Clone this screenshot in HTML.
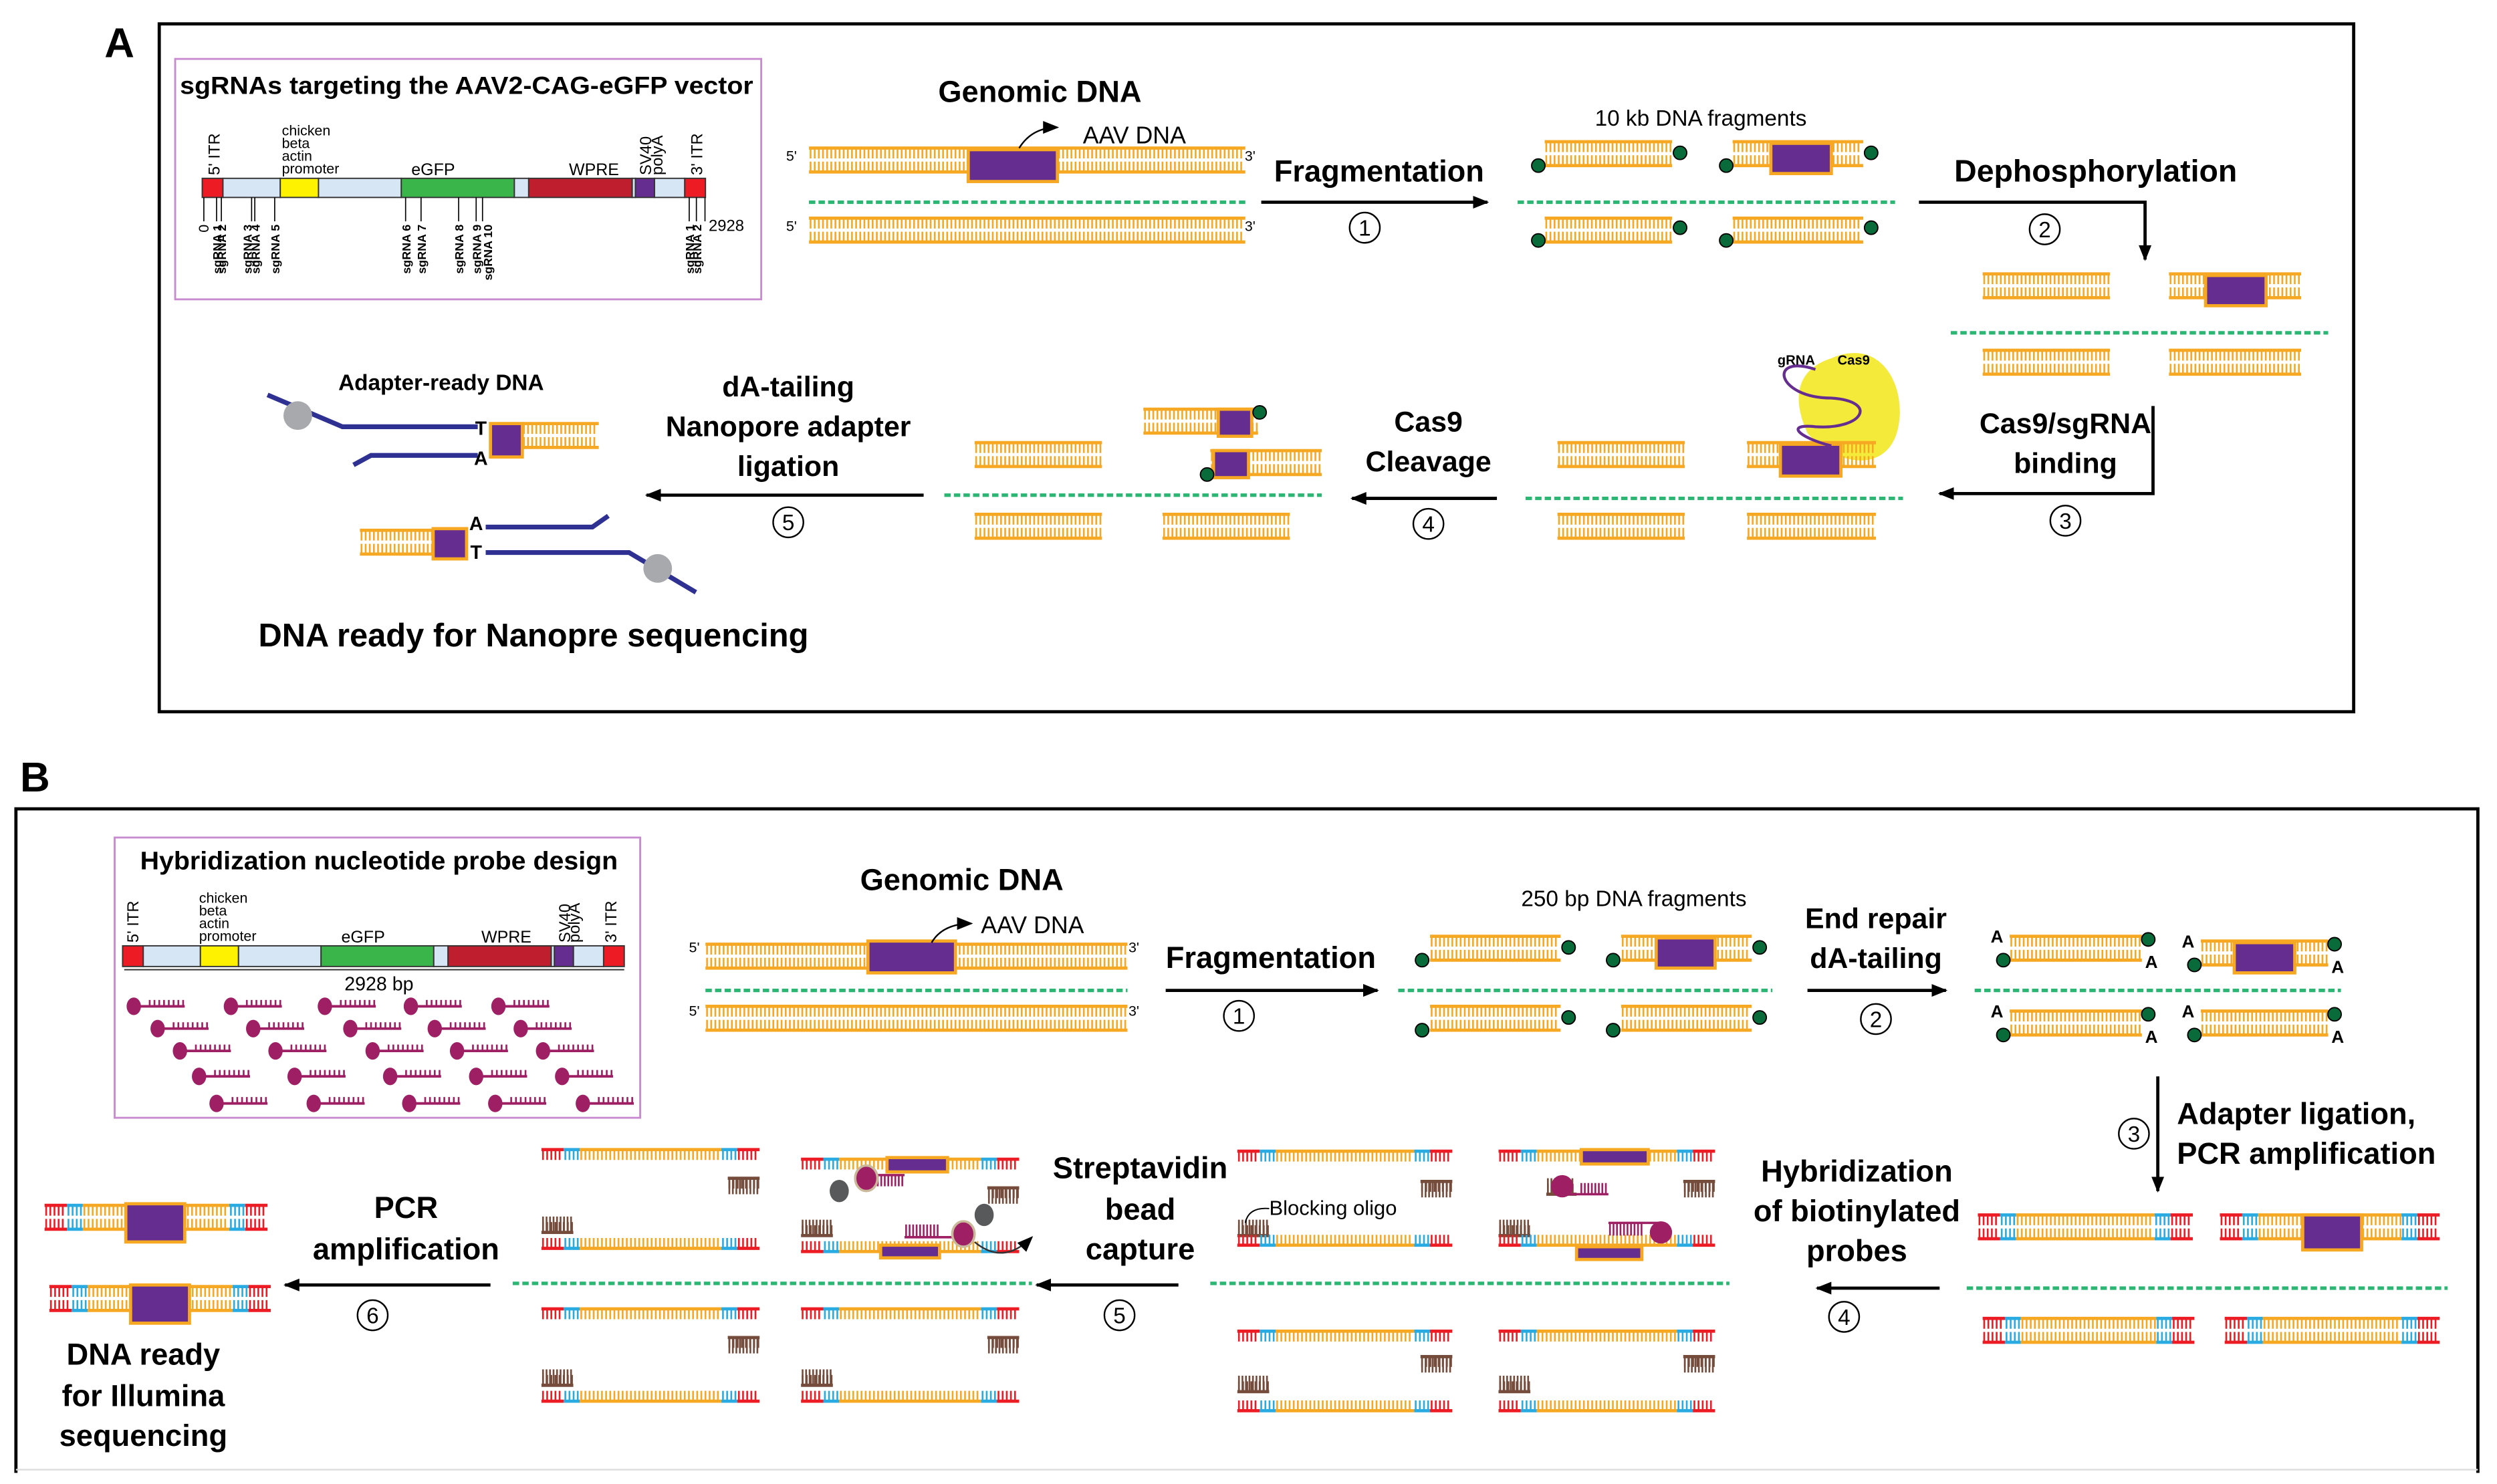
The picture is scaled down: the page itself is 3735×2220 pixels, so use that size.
<!DOCTYPE html>
<html><head><meta charset="utf-8">
<style>
html,body{margin:0;padding:0;background:#fff}
svg{display:block}
text{font-family:"Liberation Sans",Arial,sans-serif}
</style></head>
<body>
<svg id="s" xmlns="http://www.w3.org/2000/svg" width="3735" height="2220" viewBox="0 0 1568 932" preserveAspectRatio="none">
<defs>
<marker id="ah" markerWidth="10" markerHeight="8" refX="9" refY="4" orient="auto" markerUnits="userSpaceOnUse"><path d="M0 0L10 4L0 8z" fill="#000"/></marker>
</defs>
<rect x="0" y="0" width="1568" height="932" fill="#fff"/>
</svg>
<script>
const S=document.getElementById('s');const NS='http://www.w3.org/2000/svg';
function el(t,a,txt){const e=document.createElementNS(NS,t);for(const k in a)e.setAttribute(k,a[k]);if(txt!==undefined)e.textContent=txt;S.appendChild(e);return e;}
const OR='#f7a823',RD='#ed1c24',BL='#29abe2',BR='#754c3c',PU='#662d91',MG='#9e1f63';
function T(x,y,s,sz,b,anc,extra){return el('text',Object.assign({x,y,'font-size':sz,'font-weight':b?'bold':'normal','text-anchor':anc||'middle',fill:'#000'},extra||{}),s);}
function ticks(x1,x2,ya,yb,c,p){let d='';for(let x=x1+1;x<x2-0.5;x+=(p||2.6))d+=`M${x.toFixed(1)} ${ya}V${yb}`;el('path',{d,stroke:c,'stroke-width':1.1,fill:'none'});}
function strand(x1,x2,y,dir,c){el('line',{x1,x2,y1:y,y2:y,stroke:c,'stroke-width':2});ticks(x1,x2,y,y+dir*6.5,c);}
function ds(x1,x2,y,c){c=c||OR;strand(x1,x2,y,1,c);strand(x1,x2,y+15,-1,c);}
function segStrand(x1,x2,y,dir){const w=x2-x1;const segs=[[0,14,RD],[14,24,BL],[24,w-24,OR],[w-24,w-14,BL],[w-14,w,RD]];segs.forEach(s=>strand(x1+s[0],x1+s[1],y,dir,s[2]));}
function cds(x1,x2,y,both){segStrand(x1,x2,y,1);if(both!==false)segStrand(x1,x2,y+15,-1);}
function brown(x1,x2,y,dir){strand(x1,x2,y,dir,BR);ticks(x1,x2,y,y+dir*10,BR,2.2);}
function purp(x1,x2,y,h){el('rect',{x:x1,y,width:x2-x1,height:h||18,fill:PU,stroke:OR,'stroke-width':2});}
function dot(x,y){el('circle',{cx:x,cy:y,r:4.2,fill:'#0a6b3a',stroke:'#000','stroke-width':0.8});}
function dash(x1,x2,y){el('line',{x1,x2,y1:y,y2:y,stroke:'#2bb673','stroke-width':2.2,'stroke-dasharray':'4 2'});}
function arr(pts){el('polyline',{points:pts,fill:'none',stroke:'#000','stroke-width':2,'marker-end':'url(#ah)'});}
function num(x,y,n){el('circle',{cx:x,cy:y,r:9.5,fill:'#fff',stroke:'#000','stroke-width':1});T(x,y+5,n,14,false);}
function probe(x,y){el('line',{x1:x,x2:x+32,y1:y,y2:y,stroke:MG,'stroke-width':1.6});ticks(x+9,x+32,y,y-4,MG,3);el('ellipse',{cx:x,cy:y,rx:4.5,ry:5.5,fill:MG});}

/* ===== Panel A ===== */
T(75,36,'A',26,true);
el('rect',{x:100,y:15,width:1378,height:432,fill:'none',stroke:'#000','stroke-width':2});
el('rect',{x:110,y:37,width:368,height:151,fill:'none',stroke:'#c98bd0','stroke-width':1.2});
T(293,59,'sgRNAs targeting the AAV2-CAG-eGFP vector',15.5,true,'middle',{textLength:360,lengthAdjust:'spacingAndGlyphs'});
function vbar(x0,y,h,segs,sc){segs.forEach(s=>el('rect',{x:x0+s[0]*sc,y,width:(s[1]-s[0])*sc,height:h,fill:s[2],stroke:'#333','stroke-width':0.8}));}
const VS=[[0,13,'#ed1c24'],[13,49,'#d6e6f5'],[49,73,'#fff200'],[73,125,'#d6e6f5'],[125,196,'#39b54a'],[196,205,'#d6e6f5'],[205,270,'#be1e2d'],[270,272,'#d6e6f5'],[272,284,'#662d91'],[284,303,'#d6e6f5'],[303,316,'#ed1c24']];
vbar(127,112,12,VS,1);
function rtext(x,y,s,sz,b,anc){el('text',{x:0,y:0,'font-size':sz,'font-weight':b?'bold':'normal','text-anchor':anc||'start',transform:`translate(${x},${y}) rotate(-90)`,fill:'#000'},s);}
rtext(138,110,"5' ITR",10);rtext(441,110,"3' ITR",10);rtext(409,110,'SV40',10);rtext(416,110,'polyA',10);
T(177,85,'chicken',9,false,'start');T(177,93,'beta',9,false,'start');T(177,101,'actin',9,false,'start');T(177,109,'promoter',9,false,'start');
T(272,110,'eGFP',10.5);T(373,110,'WPRE',10.5);
[[128,'0'],[136,'sgRNA 1'],[139,'sgRNA 2'],[158,'sgRNA 3'],[160,'sgRNA 4'],[172.5,'sgRNA 5'],[254.7,'sgRNA 6'],[264.4,'sgRNA 7'],[288,'sgRNA 8'],[299,'sgRNA 9'],[303,'sgRNA 10'],[432.8,'sgRNA 1'],[437.3,'sgRNA 2'],[442.7,'']].forEach((p,i)=>{el('line',{x1:p[0],x2:p[0],y1:124,y2:139,stroke:'#000','stroke-width':0.7});if(p[1]=='0')rtext(p[0]+3,141,'0',9,false,'end');else if(p[1]){const off=(i==3)?-3:(i==10?3:0);rtext(p[0]+3+off,141,p[1],7.5,true,'end');}});
T(445,145,'2928',10,false,'start');

T(653,64,'Genomic DNA',19,true);
ds(508,782,93);purp(608,664,94,20);
T(497,101,"5'",9);T(785,101,"3'",9);T(497,145,"5'",9);T(785,145,"3'",9);
el('path',{d:'M640 93 Q648 80 664 80',fill:'none',stroke:'#000','stroke-width':1,'marker-end':'url(#ah)'});
T(680,90,'AAV DNA',15,false,'start');
dash(508,782,127);ds(508,782,137);
T(866,114,'Fragmentation',19,true);arr('792,127 934,127');num(857,143,'1');
T(1068,79,'10 kb DNA fragments',14);
ds(970,1050,89);dot(966,104);dot(1055,96);
ds(1088,1170,89);purp(1112,1150,90,19);dot(1084,104);dot(1175,96);
dash(953,1190,127);
ds(970,1050,137);dot(966,151);dot(1055,143);
ds(1088,1170,137);dot(1084,151);dot(1175,143);
T(1316,114,'Dephosphorylation',19.5,true);arr('1205,127 1347,127 1347,163');num(1284,144,'2');
ds(1245,1325,172);ds(1362,1445,172);purp(1385,1423,173,19);
dash(1225,1462,209);ds(1245,1325,220);ds(1362,1445,220);
T(1297,272,'Cas9/sgRNA',18,true);T(1297,297,'binding',18,true);
arr('1352,255 1352,310 1218,310');num(1297,327,'3');
el('path',{d:'M1150 225 C1185 210 1200 250 1190 275 C1180 298 1150 290 1135 272 C1125 250 1128 232 1150 225Z',fill:'#f4ea3a'});
ds(978,1058,278);ds(1097,1178,278);purp(1118,1156,279,20);
el('path',{d:'M1140 232 C1110 222 1115 250 1150 250 C1180 252 1170 270 1140 268 C1120 266 1130 275 1150 280',fill:'none',stroke:PU,'stroke-width':1.8});
T(1128,229,'gRNA',8.5,true);T(1164,229,'Cas9',8.5,true);
dash(958,1195,313);ds(978,1058,323);ds(1097,1178,323);
T(897,271,'Cas9',18,true);T(897,296,'Cleavage',18,true);
arr('940,313 849,313');num(897,329,'4');
ds(612,692,278);
ds(718,790,257);purp(765,786,257,17);dot(791,259);
ds(760,830,283);purp(762,784,283,17);dot(758,298);
dash(593,830,311);ds(612,692,323);ds(730,810,323);
T(495,249,'dA-tailing',18,true);T(495,274,'Nanopore adapter',18,true);T(495,299,'ligation',18,true);
arr('580,311 406,311');num(495,328,'5');
T(277,245,'Adapter-ready DNA',14,true);
el('polyline',{points:'168,248 215,268 300,268',fill:'none',stroke:'#2e3192','stroke-width':3});
el('polyline',{points:'222,292 233,286 300,286',fill:'none',stroke:'#2e3192','stroke-width':3});
el('circle',{cx:187,cy:261,r:9,fill:'#a7a9ac'});
T(302,273,'T',12,true);T(302,292,'A',12,true);
ds(328,376,266);purp(308,328,266,21);
ds(226,272,333);purp(272,293,332,19);
T(299,333,'A',12,true);T(299,351,'T',12,true);
el('polyline',{points:'305,331 372,331 382,324',fill:'none',stroke:'#2e3192','stroke-width':3});
el('polyline',{points:'305,347 395,347 437,372',fill:'none',stroke:'#2e3192','stroke-width':3});
el('circle',{cx:413,cy:357,r:9,fill:'#a7a9ac'});
T(335,406,'DNA ready for Nanopre sequencing',20.5,true);

/* ===== Panel B ===== */
T(22,497,'B',26,true);
el('polyline',{points:'10,925 10,508 1556,508 1556,925',fill:'none',stroke:'#000','stroke-width':2});
el('line',{x1:10,y1:923,x2:1556,y2:923,stroke:'#ddd','stroke-width':1});
el('rect',{x:72,y:526,width:330,height:176,fill:'none',stroke:'#c98bd0','stroke-width':1.2});
T(238,546,'Hybridization nucleotide probe design',16,true,'middle',{textLength:300,lengthAdjust:'spacingAndGlyphs'});
vbar(77,594,13,VS,315/316);
rtext(87,592,"5' ITR",10);rtext(387,592,"3' ITR",10);rtext(358,592,'SV40',10);rtext(364,592,'polyA',10);
T(125,567,'chicken',9,false,'start');T(125,575,'beta',9,false,'start');T(125,583,'actin',9,false,'start');T(125,591,'promoter',9,false,'start');
T(228,592,'eGFP',10.5);T(318,592,'WPRE',10.5);
el('line',{x1:78,x2:392,y1:609,y2:609,stroke:'#333','stroke-width':0.8});
T(238,622,'2928 bp',12);
const PY=[632,646,660,676,693];
const PX=[[84,145,204,258,313],[99,159,220,273,327],[113,173,234,287,341],[125,185,245,299,353],[136,197,257,311,366]];
PX.forEach((xs,i)=>xs.forEach(x=>probe(x,PY[i])));

T(604,559,'Genomic DNA',19,true);
ds(443,708,593);purp(545,600,591,20);
T(436,598,"5'",9);T(712,598,"3'",9);T(436,638,"5'",9);T(712,638,"3'",9);
el('path',{d:'M585 592 Q592 580 610 580',fill:'none',stroke:'#000','stroke-width':1,'marker-end':'url(#ah)'});
T(616,586,'AAV DNA',15,false,'start');
dash(443,708,622);ds(443,708,632);
T(798,608,'Fragmentation',19,true);arr('732,622 865,622');num(778,638,'1');
T(1026,569,'250 bp DNA fragments',14);
ds(898,980,588);dot(893,603);dot(985,595);
ds(1018,1100,588);purp(1040,1077,589,19);dot(1013,603);dot(1105,595);
dash(878,1113,622);
ds(898,980,632);dot(893,647);dot(985,639);
ds(1018,1100,632);dot(1013,647);dot(1105,639);
T(1178,583,'End repair',18,true);T(1178,608,'dA-tailing',18,true);
arr('1135,622 1222,622');num(1178,640,'2');
function afrag(x1,x2,y,pur){ds(x1,x2,y);if(pur)purp(pur[0],pur[1],y+1,19);T(x1-4,y+4,'A',11,true,'end');dot(x1-4,y+15);dot(x2+4,y+2);T(x2+2,y+20,'A',11,true,'start');}
afrag(1262,1345,588);afrag(1382,1462,591,[1403,1441]);
dash(1240,1470,622);
afrag(1262,1345,635);afrag(1382,1462,635);
arr('1355,676 1355,748');num(1340,712,'3');
T(1367,706,'Adapter ligation,',19,true,'start');T(1367,731,'PCR amplification',19,true,'start');
cds(1242,1377,763);cds(1394,1532,763);purp(1446,1483,763,22);
dash(1235,1537,809);cds(1245,1378,828);cds(1397,1532,828);
T(1166,742,'Hybridization',19,true);T(1166,767,'of biotinylated',19,true);T(1166,792,'probes',19,true);
arr('1218,809 1141,809');num(1158,827,'4');
/* middle group */
segStrand(777,912,723,1);brown(892,912,742,1);
segStrand(941,1077,723,1);purp(993,1035,722,9);brown(1057,1077,742,1);
brown(971,990,750,-1);el('line',{x1:981,x2:1010,y1:750,y2:750,stroke:MG,'stroke-width':1.5});ticks(992,1010,750,743,MG,2.2);el('circle',{cx:981,cy:745,r:7,fill:MG});
brown(777,797,776,-1);segStrand(777,912,782,-1);
T(797,763,'Blocking oligo',13,false,'start');el('path',{d:'M797 759 Q784 758 782 768',fill:'none',stroke:'#000','stroke-width':0.8});
brown(941,961,776,-1);segStrand(941,1077,782,-1);purp(990,1031,783,8);
ticks(1010,1033,776,768,MG,2.2);el('line',{x1:1010,x2:1043,y1:768,y2:768,stroke:MG,'stroke-width':1.5});el('circle',{cx:1043,cy:774,r:7,fill:MG});
dash(760,1086,806);
segStrand(777,912,836,1);brown(892,912,852,1);
segStrand(941,1077,836,1);brown(1057,1077,852,1);
brown(777,797,874,-1);segStrand(777,912,886,-1);
brown(941,961,874,-1);segStrand(941,1077,886,-1);
T(716,740,'Streptavidin',19,true);T(716,766,'bead',19,true);T(716,791,'capture',19,true);
arr('740,807 651,807');num(703,826,'5');
/* left group */
segStrand(340,477,722,1);brown(457,477,740,1);
segStrand(503,640,728,1);purp(557,595,727,9);brown(620,640,746,1);
el('line',{x1:544,x2:568,y1:738,y2:738,stroke:MG,'stroke-width':1.5});ticks(548,568,738,745,MG,2.2);
el('ellipse',{cx:544,cy:740,rx:7,ry:8,fill:MG,stroke:'#c9b99a','stroke-width':1.5});el('ellipse',{cx:527,cy:748,rx:6,ry:7,fill:'#58595b'});
brown(340,360,774,-1);segStrand(340,477,784,-1);
brown(503,523,776,-1);segStrand(503,640,786,-1);purp(553,590,782,8);
el('line',{x1:568,x2:603,y1:777,y2:777,stroke:MG,'stroke-width':1.5});ticks(568,590,777,769,MG,2.2);
el('ellipse',{cx:605,cy:775,rx:7,ry:8,fill:MG,stroke:'#c9b99a','stroke-width':1.5});el('ellipse',{cx:618,cy:763,rx:6,ry:7,fill:'#58595b'});
el('path',{d:'M612 780 Q630 795 648 777',fill:'none',stroke:'#333','stroke-width':1,'marker-end':'url(#ah)'});
dash(322,648,806);
segStrand(340,477,822,1);brown(457,477,840,1);
segStrand(503,640,822,1);brown(620,640,840,1);
brown(340,360,870,-1);segStrand(340,477,880,-1);
brown(503,523,870,-1);segStrand(503,640,880,-1);
T(255,765,'PCR',19,true);T(255,791,'amplification',19,true);
arr('308,807 179,807');num(234,826,'6');
cds(28,168,757);purp(79,116,756,24);
cds(31,170,808);purp(82,119,807,24);
T(90,857,'DNA ready',19,true);T(90,883,'for Illumina',19,true);T(90,908,'sequencing',19,true);
</script>
</body></html>
